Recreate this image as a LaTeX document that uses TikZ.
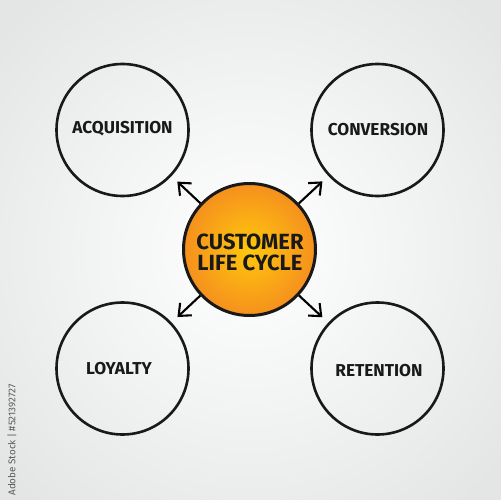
\documentclass[tikz,border=0pt]{standalone}
\usepackage{fontspec}
\setmainfont{Fira Sans}
\usetikzlibrary{arrows.meta}
\definecolor{bgedge}{HTML}{E4E6E6}
\definecolor{orin}{HTML}{FFC80C}
\definecolor{orout}{HTML}{F5901E}
\tikzset{
  outer/.style={circle, draw=black!90, line width=2.6*0.02cm, minimum size=132*0.02cm, inner sep=0pt},
  center/.style={circle, draw=black!90, line width=3*0.02cm, minimum size=132*0.02cm, inner sep=0pt, inner color=orin, outer color=orout},
  lbl/.style={font=\fontsize{9.8}{11}\selectfont\bfseries, text=black!90},
  clbl/.style={font=\fontsize{12.5}{12}\selectfont\bfseries, text=black!90, align=center},
  conn/.style={line width=2.1*0.02cm, -{Straight Barb[length=10*0.02cm, width=17*0.02cm, line width=2.1*0.02cm]}, shorten >=8*0.02cm},
  stamp/.style={font=\fontsize{5.6}{6}\selectfont, text=black!65, rotate=90, inner sep=0pt}
}
\begin{document}
\begin{tikzpicture}[x=0.02cm, y=-0.02cm]
\useasboundingbox (0,0) rectangle (500,500);
\shade[inner color=white, outer color=bgedge] (-80,-80) rectangle (580,580);
\node[outer] (acq) at (122.5,130) {};
\node[outer] (con) at (377.5,130) {};
\node[outer] (loy) at (122.5,368.5) {};
\node[outer] (ret) at (377.5,368.5) {};
\node[center] (clc) at (249.5,249.5) {};
\node[lbl] (tacq) at (122.5,129) {ACQUISITION};
\node[lbl] (tcon) at (378,129.5) {CONVERSION};
\node[lbl] (tloy) at (119,369) {LOYALTY};
\node[lbl] (tret) at (379,371) {RETENTION};
\node[clbl] (tclc) at (250,252) {CUSTOMER\\LIFE CYCLE};
\draw[conn] (clc) -- (acq);
\draw[conn] (clc) -- (con);
\draw[conn] (clc) -- (loy);
\draw[conn] (clc) -- (ret);
\node[stamp] (stamp) at (12,440) {Adobe Stock | \#521392727};
\end{tikzpicture}
\end{document}
